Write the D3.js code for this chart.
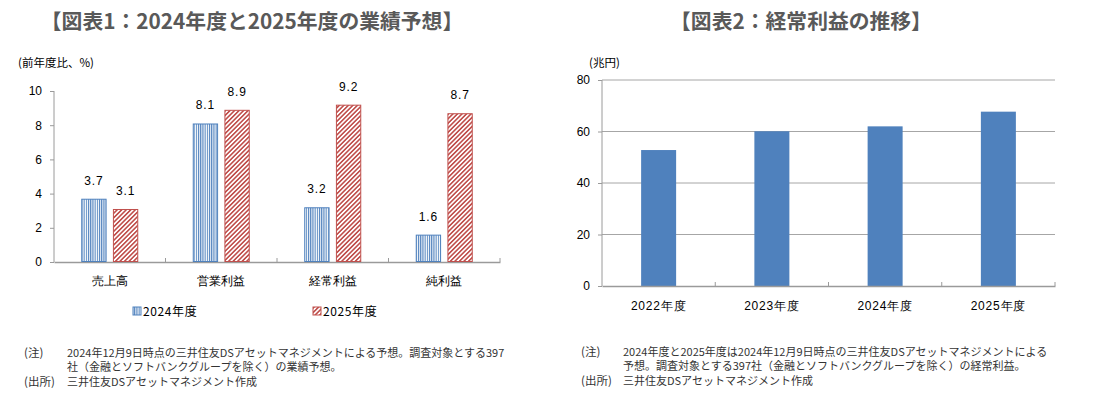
<!DOCTYPE html>
<html><head><meta charset="utf-8">
<script src="https://cdn.jsdelivr.net/npm/d3@7"></script>
<style>
html,body{margin:0;padding:0;background:#fff;}
svg{display:block;font-family:"Noto Sans CJK JP","Noto Sans",sans-serif;}
</style></head>
<body>
<script>
// ---- Data ----
const title1 = "【図表1：2024年度と2025年度の業績予想】";
const title2 = "【図表2：経常利益の推移】";
const cats1 = ["売上高", "営業利益", "経常利益", "純利益"];
const series1Names = ["2024年度", "2025年度"];
const values2024 = [3.7, 8.1, 3.2, 1.6];
const values2025 = [3.1, 8.9, 9.2, 8.7];
const ticks1 = [0, 2, 4, 6, 8, 10];
const unit1 = "(前年度比、%)";

const cats2 = ["2022年度", "2023年度", "2024年度", "2025年度"];
const values2 = [52.8, 60.1, 62.0, 67.7];
const ticks2 = [0, 20, 40, 60, 80];
const unit2 = "(兆円)";

const notes1 = [
  ["(注)", "2024年12月9日時点の三井住友DSアセットマネジメントによる予想。調査対象とする397"],
  ["", "社（金融とソフトバンクグループを除く）の業績予想。"],
  ["(出所)", "三井住友DSアセットマネジメント作成"]
];
const notes2 = [
  ["(注)", "2024年度と2025年度は2024年12月9日時点の三井住友DSアセットマネジメントによる"],
  ["", "予想。調査対象とする397社（金融とソフトバンクグループを除く）の経常利益。"],
  ["(出所)", "三井住友DSアセットマネジメント作成"]
];

const W = 1100, H = 397;
const BLUE = "#4F81BD", RED = "#C0504D", AXIS = "#9a9a9a";

const svg = d3.select("body").append("svg").attr("width", W).attr("height", H);
const defs = svg.append("defs");
const pb = defs.append("pattern").attr("id","vstripe").attr("patternUnits","userSpaceOnUse")
  .attr("width",2.2).attr("height",4);
pb.append("rect").attr("width",2.2).attr("height",4).attr("fill","#fff");
pb.append("rect").attr("x",0).attr("width",1.1).attr("height",4).attr("fill",BLUE);
const pr = defs.append("pattern").attr("id","dstripe").attr("patternUnits","userSpaceOnUse")
  .attr("width",3.2).attr("height",3.2).attr("patternTransform","rotate(45)");
pr.append("rect").attr("width",3.2).attr("height",3.2).attr("fill","#fff");
pr.append("rect").attr("width",1.6).attr("height",3.2).attr("fill",RED);

// ---- Titles ----
svg.append("text").attr("x",252).attr("y",29).attr("text-anchor","middle")
  .attr("font-size",20.8).attr("font-weight","bold").attr("fill","#595959").text(title1);
svg.append("text").attr("x",801).attr("y",29).attr("text-anchor","middle")
  .attr("font-size",20.8).attr("font-weight","bold").attr("fill","#595959").text(title2);

// ---- Chart 1 ----
const x1 = d3.scaleBand().domain(cats1).range([54, 500]).paddingInner(0).paddingOuter(0);
const y1 = d3.scaleLinear().domain([0, 10]).range([262, 91]);
const bw1 = x1.bandwidth();
const xs1 = d3.scaleBand().domain(series1Names).range([bw1/2 - 28.5, bw1/2 + 28.5]).paddingInner(0.2);

const g1 = svg.append("g");
// y axis
const ya1 = g1.append("g").attr("transform","translate(54,0)")
  .call(d3.axisLeft(y1).tickValues(ticks1).tickSize(4).tickPadding(8).tickFormat(d3.format("d")));
ya1.select(".domain").attr("stroke",AXIS).attr("d",`M0,${y1(10)}V${y1(0)}`);
ya1.selectAll(".tick line").attr("stroke",AXIS);
ya1.selectAll(".tick text").attr("font-size",12).attr("fill","#000").attr("font-family","Liberation Sans, Arial, sans-serif");
// x axis
const xa1 = g1.append("g").attr("transform","translate(0,262)")
  .call(d3.axisBottom(x1).tickSize(0).tickPadding(14));
xa1.select(".domain").attr("stroke",AXIS).attr("stroke-width",1.5);
xa1.selectAll(".tick text").attr("font-size",12).attr("fill","#000");
// boundary ticks
g1.selectAll("line.bt").data(cats1).join("line").attr("class","bt")
  .attr("x1",d=>x1(d)+x1.bandwidth()).attr("x2",d=>x1(d)+x1.bandwidth())
  .attr("y1",258).attr("y2",262).attr("stroke",AXIS);

const rows1 = cats1.map((c,i)=>({c, v:[values2024[i], values2025[i]]}));
const seriesStyle = [{fill:"url(#vstripe)", stroke:BLUE},{fill:"url(#dstripe)", stroke:RED}];
series1Names.forEach((s, si) => {
  const gs = g1.append("g");
  gs.selectAll("rect").data(rows1).join("rect")
    .attr("x", d => x1(d.c) + xs1(s) + 0.5)
    .attr("y", d => y1(d.v[si]) + 0.5)
    .attr("width", xs1.bandwidth() - 1)
    .attr("height", d => y1(0) - y1(d.v[si]) - 1)
    .attr("fill", seriesStyle[si].fill).attr("stroke", seriesStyle[si].stroke).attr("stroke-width",1);
  gs.selectAll("text").data(rows1).join("text")
    .attr("x", d => x1(d.c) + xs1(s) + xs1.bandwidth()/2)
    .attr("y", d => y1(d.v[si]) - 14)
    .attr("text-anchor","middle").attr("font-size",12).attr("letter-spacing",0.8)
    .attr("font-family","Liberation Sans, Arial, sans-serif")
    .text(d => d.v[si].toFixed(1));
});
g1.append("text").attr("x",18).attr("y",67).attr("font-size",11.5).attr("fill","#000").text(unit1);

// legend 1
const legX = [133, 313];
series1Names.forEach((s, si) => {
  svg.append("rect").attr("x",legX[si]).attr("y",307).attr("width",8).attr("height",8)
    .attr("fill",seriesStyle[si].fill).attr("stroke",seriesStyle[si].stroke);
  svg.append("text").attr("x",legX[si]+10).attr("y",316).attr("font-size",12).attr("letter-spacing",0.6).text(s);
});

// ---- Chart 2 ----
const x2 = d3.scaleBand().domain(cats2).range([602, 1055]).paddingInner(0).paddingOuter(0);
const y2 = d3.scaleLinear().domain([0, 80]).range([286, 80]);
const g2 = svg.append("g");
// gridlines
g2.selectAll("line.grid").data(ticks2.filter(t=>t>0)).join("line").attr("class","grid")
  .attr("x1",602).attr("x2",1055).attr("y1",d=>y2(d)).attr("y2",d=>y2(d))
  .attr("stroke","#a6a6a6").attr("stroke-width",1);
const ya2 = g2.append("g").attr("transform","translate(602,0)")
  .call(d3.axisLeft(y2).tickValues(ticks2).tickSize(4).tickPadding(8));
ya2.select(".domain").attr("stroke",AXIS).attr("d",`M0,${y2(80)}V${y2(0)}`);
ya2.selectAll(".tick line").attr("stroke",AXIS);
ya2.selectAll(".tick text").attr("font-size",12).attr("fill","#000").attr("font-family","Liberation Sans, Arial, sans-serif");
// bars
g2.selectAll("rect.bar").data(cats2.map((c,i)=>({c, v:values2[i]}))).join("rect").attr("class","bar")
  .attr("x", d => x2(d.c) + x2.bandwidth()/2 - 17.5)
  .attr("y", d => y2(d.v))
  .attr("width", 35)
  .attr("height", d => y2(0) - y2(d.v))
  .attr("fill", BLUE);
const xa2 = g2.append("g").attr("transform","translate(0,286)")
  .call(d3.axisBottom(x2).tickSize(0).tickPadding(15));
xa2.select(".domain").attr("stroke",AXIS).attr("stroke-width",1.5);
xa2.selectAll(".tick text").attr("font-size",12).attr("fill","#000").attr("letter-spacing",0.8);
g2.selectAll("line.bt").data(cats2).join("line").attr("class","bt")
  .attr("x1",d=>x2(d)+x2.bandwidth()).attr("x2",d=>x2(d)+x2.bandwidth())
  .attr("y1",282).attr("y2",286).attr("stroke",AXIS);
g2.append("text").attr("x",589).attr("y",67).attr("font-size",11.5).attr("fill","#000").text(unit2);

// ---- Notes ----
function drawNotes(notes, x0, xText, ys) {
  notes.forEach((n, i) => {
    if (n[0]) svg.append("text").attr("x",x0).attr("y",ys[i]).attr("font-size",11.5).attr("fill","#333").text(n[0]);
    svg.append("text").attr("x",xText).attr("y",ys[i]).attr("font-size",11).attr("fill","#333").text(n[1]);
  });
}
drawNotes(notes1, 24, 67, [357, 371, 386]);
drawNotes(notes2, 581, 623, [356, 370, 385]);
</script>
</body></html>
